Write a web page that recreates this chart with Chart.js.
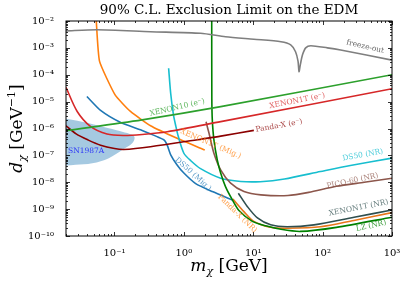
<!DOCTYPE html>
<html>
<head>
<meta charset="utf-8">
<script src="https://cdn.jsdelivr.net/npm/chart.js@4.4.1/dist/chart.umd.min.js"></script>
<style>
  body { margin: 0; background: #fff; }
  canvas { display: block; }
</style>
</head>
<body>
<canvas id="edm" width="407" height="284"></canvas>
<script>
// ---- data (mass in GeV, EDM in GeV^-1) ----
var xTicks = [0.1, 1, 10, 100, 1000];
var yTicks = [1e-10, 1e-9, 1e-8, 1e-7, 1e-6, 1e-5, 1e-4, 1e-3, 1e-2];

var freezeM = [0.02, 0.056, 0.33, 1.74, 3.98, 10.2, 25.1, 34.7, 40.7, 44.2, 45.7, 47.9, 51.3, 57.0, 67.6, 117, 182, 1000];
var freezeD = [4.3e-3, 4.7e-3, 4.0e-3, 3.5e-3, 2.6e-3, 2.1e-3, 1.7e-3, 1.3e-3, 7.2e-4, 3.2e-4, 1.3e-4, 2.5e-4, 5.5e-4, 1.0e-3, 1.2e-3, 1.0e-3, 8.3e-4, 3.5e-4];

var xe10eM = [0.02, 0.25, 3.4, 1000];
var xe10eD = [8.3e-7, 2.1e-6, 6.5e-6, 1.0e-4];

var xe1teM = [0.02, 0.029, 0.045, 0.078, 0.135, 0.25, 0.575, 3.4, 1000];
var xe1teD = [3.4e-5, 4.3e-6, 1.2e-6, 6.2e-7, 5.5e-7, 6.0e-7, 7.6e-7, 1.8e-6, 3.0e-5];

var pandaeM = [0.02, 0.028, 0.042, 0.063, 0.1, 0.136, 0.33, 1.74, 3.4, 10.2];
var pandaeD = [1.26e-6, 6.3e-7, 3.7e-7, 2.4e-7, 1.8e-7, 1.66e-7, 2.1e-7, 4.0e-7, 5.2e-7, 8.5e-7];

var ds50migM = [0.040, 0.063, 0.123, 0.237, 0.513, 0.575, 0.646, 0.794, 1.0, 1.48, 2.57, 5.0];
var ds50migD = [1.55e-5, 4.7e-6, 1.66e-6, 8.9e-7, 3.8e-7, 2.4e-7, 1.05e-7, 4.5e-8, 2.2e-8, 8.9e-9, 4.5e-9, 2.2e-9];

var xe1tmigM = [0.0543, 0.0608, 0.102, 0.17, 0.331, 0.80, 2.0];
var xe1tmigD = [1.26e-2, 3.2e-4, 1.78e-5, 4.3e-6, 1.26e-6, 4.3e-7, 1.58e-7];

var ds50nrM = [0.603, 0.646, 0.708, 0.759, 0.832, 1.0, 1.26, 1.74, 3.39, 6.6, 12.6, 28.2, 93, 251, 1000];
var ds50nrD = [1.74e-4, 2.0e-5, 3.2e-6, 1.35e-6, 5.0e-7, 1.2e-7, 6.3e-8, 3.2e-8, 1.41e-8, 1.07e-8, 1.05e-8, 1.32e-8, 2.5e-8, 4.2e-8, 7.9e-8];

var picoM = [2.09, 2.21, 2.30, 2.71, 3.39, 4.72, 7.35, 12.9, 31.6, 63, 158, 398, 1000];
var picoD = [1.78e-6, 1.0e-6, 6.8e-7, 1.2e-7, 2.9e-8, 9.3e-9, 4.5e-9, 3.4e-9, 3.2e-9, 4.2e-9, 7.1e-9, 1.0e-8, 1.41e-8];

var lzM = [2.52, 2.53, 2.57, 2.71, 3.03, 3.39, 3.98, 4.99, 6.22, 9.7, 15.1, 25.1, 47.9, 158, 1000];
var lzD = [1.26e-2, 1.26e-5, 2.1e-6, 3.8e-7, 6.8e-8, 2.2e-8, 6.9e-9, 2.24e-9, 8.9e-10, 3.5e-10, 2.4e-10, 1.78e-10, 1.48e-10, 2.1e-10, 5.0e-10];

var xe1tnrM = [6.1, 8.2, 11.5, 17.8, 31, 75, 284, 1000];
var xe1tnrD = [3.9e-9, 1.26e-9, 4.7e-10, 2.6e-10, 2.2e-10, 2.6e-10, 5.0e-10, 9.3e-10];

var pandanrM = [5.08, 7.33, 10.2, 17.8, 30.9, 93, 282, 1000];
var pandanrD = [2.4e-9, 8.1e-10, 3.5e-10, 2.1e-10, 1.95e-10, 2.2e-10, 3.8e-10, 7.4e-10];

// SN1987A region outline (upper edge left->right, then lower edge back)
var snM = [0.02, 0.0427, 0.0828, 0.129, 0.18, 0.195, 0.18, 0.129, 0.0828, 0.0479, 0.0275, 0.02];
var snD = [2.3e-6, 1.58e-6, 1.02e-6, 7.6e-7, 5.8e-7, 4.5e-7, 2.8e-7, 1.58e-7, 7.9e-8, 5.1e-8, 4.5e-8, 4.2e-8];

// ---- curve labels: text, anchor (GeV, GeV^-1), rotation in degrees ----
var curveLabels = [
    { text: 'freeze-out', m: 410, d: 1.1e-3, rot: 13, color: '#333333' },
    { text: 'XENON10 (e⁻)', m: 0.80, d: 6.0e-6, rot: -13, color: '#2ca02c' },
    { text: 'XENON1T (e⁻)', m: 43, d: 1.07e-5, rot: -11, color: '#d62728' },
    { text: 'Panda-X (e⁻)', m: 23.5, d: 1.26e-6, rot: -10, color: '#8b0000' },
    { text: 'XENON1T (Mig.)', m: 2.43, d: 2.7e-7, rot: 23, color: '#ff7f0e' },
    { text: 'DS50 (Mig.)', m: 1.36, d: 2.0e-8, rot: 42, color: '#1f77b4' },
    { text: 'Panda-X (NR)', m: 5.9, d: 6.8e-10, rot: 44, color: '#ff7f0e' },
    { text: 'DS50 (NR)', m: 380, d: 1.03e-7, rot: -10, color: '#17becf' },
    { text: 'PICO-60 (NR)', m: 270, d: 1.12e-8, rot: -12, color: '#8c564b' },
    { text: 'XENON1T (NR)', m: 330, d: 1.12e-9, rot: -11, color: '#2f4f4f' },
    { text: 'LZ (NR)', m: 500, d: 2.4e-10, rot: -12, color: '#008000' },
    { text: 'SN1987A', m: 0.039, d: 1.48e-7, rot: 0, color: '#0000ff' }
];

function pts(m, d) {
    return m.map(function (v, i) { return { x: v, y: d[i] }; });
}

function curve(label, m, d, color, tension) {
    return {
        label: label,
        data: pts(m, d),
        borderColor: color,
        backgroundColor: color,
        borderWidth: 1.6,
        pointRadius: 0,
        tension: tension,
        fill: false,
        clip: 0
    };
}

var supMap = { '-': '⁻', '0': '⁰', '1': '¹', '2': '²', '3': '³', '4': '⁴', '5': '⁵', '6': '⁶', '7': '⁷', '8': '⁸', '9': '⁹' };
function powLabel(v) {
    var e = String(Math.round(Math.log10(v)));
    return '10' + e.split('').map(function (c) { return supMap[c]; }).join('');
}

var serif = 'DejaVu Serif';

// ---- frame, inward ticks, curve labels, axis titles ----
var decor = {
    id: 'decor',
    afterDatasetsDraw: function (chart) {
        var ctx = chart.ctx, a = chart.chartArea;
        var xs = chart.scales.x, ys = chart.scales.y;
        ctx.save();
        ctx.strokeStyle = '#000';
        ctx.lineWidth = 0.8;
        var e, k, p, len;
        for (e = -2; e <= 3; e++) {
            for (k = 1; k <= 9; k++) {
                var v = k * Math.pow(10, e);
                if (v < 0.02 - 1e-9 || v > 1000 + 1e-9) continue;
                p = Math.round(xs.getPixelForValue(v)) + 0.5;
                len = (k === 1) ? 4 : 2;
                ctx.beginPath();
                ctx.moveTo(p, a.bottom); ctx.lineTo(p, a.bottom - len);
                ctx.moveTo(p, a.top); ctx.lineTo(p, a.top + len);
                ctx.stroke();
            }
        }
        for (e = -10; e <= -2; e++) {
            for (k = 1; k <= 9; k++) {
                var w = k * Math.pow(10, e);
                if (w > 1e-2 * 1.0001) continue;
                p = Math.round(ys.getPixelForValue(w)) + 0.5;
                len = (k === 1) ? 4 : 2;
                ctx.beginPath();
                ctx.moveTo(a.left, p); ctx.lineTo(a.left + len, p);
                ctx.moveTo(a.right, p); ctx.lineTo(a.right - len, p);
                ctx.stroke();
            }
        }
        ctx.lineWidth = 1;
        ctx.strokeRect(a.left, a.top, a.right - a.left, a.bottom - a.top);

        // curve labels
        ctx.font = '7.5px "' + serif + '"';
        ctx.textAlign = 'center';
        ctx.textBaseline = 'middle';
        curveLabels.forEach(function (l) {
            ctx.save();
            ctx.globalAlpha = 0.75;
            ctx.fillStyle = l.color;
            ctx.translate(xs.getPixelForValue(l.m), ys.getPixelForValue(l.d));
            ctx.rotate(l.rot * Math.PI / 180);
            ctx.fillText(l.text, 0, 0);
            ctx.restore();
        });
        ctx.restore();
    },
    afterDraw: function (chart) {
        var ctx = chart.ctx, a = chart.chartArea;
        ctx.save();
        ctx.fillStyle = '#000';
        ctx.textBaseline = 'alphabetic';
        ctx.textAlign = 'left';
        var big = '17px "' + serif + '"', bigIt = 'italic 17px "' + serif + '"', small = '11px "' + serif + '"', smallIt = 'italic 11px "' + serif + '"';

        // x title: m_chi [GeV]
        var parts = [[bigIt, 'm', 0], [smallIt, 'χ', 4], [big, ' [GeV]', 0]];
        drawParts(ctx, parts, (a.left + a.right) / 2, 271);

        // y title: d_chi [GeV^-1], rotated
        ctx.translate(22, (a.top + a.bottom) / 2);
        ctx.rotate(-Math.PI / 2);
        var yparts = [[bigIt, 'd', 0], [smallIt, 'χ', 4], [big, ' [GeV', 0], [small, '−1', -7], [big, ']', 0]];
        drawParts(ctx, yparts, 0, 0);
        ctx.restore();
    }
};

function drawParts(ctx, parts, cx, base) {
    var total = 0;
    parts.forEach(function (p) { ctx.font = p[0]; total += ctx.measureText(p[1]).width; });
    var x = cx - total / 2;
    parts.forEach(function (p) {
        ctx.font = p[0];
        ctx.fillText(p[1], x, base + p[2]);
        x += ctx.measureText(p[1]).width;
    });
}

var ctx = document.getElementById('edm').getContext('2d');
var chart = new Chart(ctx, {
    type: 'line',
    data: {
        datasets: [
            curve('freeze-out', freezeM, freezeD, '#7f7f7f', 0.25),
            curve('XENON10 (e-)', xe10eM, xe10eD, '#2ca02c', 0.3),
            curve('XENON1T (e-)', xe1teM, xe1teD, '#d62728', 0.3),
            curve('Panda-X (e-)', pandaeM, pandaeD, '#8b0000', 0.3),
            curve('LZ (NR)', lzM, lzD, '#008000', 0.25),
            curve('XENON1T (NR)', xe1tnrM, xe1tnrD, '#2f4f4f', 0.3),
            curve('Panda-X (NR)', pandanrM, pandanrD, '#e8761a', 0.3),
            curve('PICO-60 (NR)', picoM, picoD, '#8c564b', 0.25),
            curve('DS50 (NR)', ds50nrM, ds50nrD, '#17becf', 0.25),
            curve('XENON1T (Mig.)', xe1tmigM, xe1tmigD, '#ff7f0e', 0.15),
            curve('DS50 (Mig.)', ds50migM, ds50migD, '#1f77b4', 0.2),
            {
                label: 'SN1987A',
                data: pts(snM, snD),
                borderWidth: 0,
                borderColor: 'rgba(31,119,180,0)',
                backgroundColor: 'rgba(31,119,180,0.4)',
                pointRadius: 0,
                tension: 0.35,
                fill: 'shape',
                clip: 0
            }
        ]
    },
    options: {
        responsive: false,
        animation: false,
        devicePixelRatio: 1,
        layout: { padding: { left: 0, right: 15, top: 0, bottom: 0 } },
        plugins: {
            legend: { display: false },
            tooltip: { enabled: false },
            title: {
                display: true,
                text: '90% C.L. Exclusion Limit on the EDM',
                fullSize: false,
                color: '#000',
                font: { family: serif, size: 13.5, weight: 'normal', lineHeight: 1.2 },
                padding: { top: 2, bottom: 2.8 }
            }
        },
        scales: {
            x: {
                type: 'logarithmic',
                min: 0.02,
                max: 1000,
                grid: { display: false },
                border: { display: false },
                afterBuildTicks: function (s) { s.ticks = xTicks.map(function (v) { return { value: v }; }); },
                afterFit: function (s) { s.height = 48; },
                ticks: {
                    autoSkip: false,
                    maxRotation: 0,
                    padding: 3,
                    color: '#000',
                    font: { family: serif, size: 10 },
                    callback: function (v) { return powLabel(v); }
                }
            },
            y: {
                type: 'logarithmic',
                min: 1e-10,
                max: 1e-2,
                grid: { display: false },
                border: { display: false },
                afterBuildTicks: function (s) { s.ticks = yTicks.map(function (v) { return { value: v }; }); },
                afterFit: function (s) { s.width = 66; },
                ticks: {
                    autoSkip: false,
                    padding: 4,
                    color: '#000',
                    font: { family: serif, size: 10 },
                    callback: function (v) { return powLabel(v); }
                }
            }
        }
    },
    plugins: [decor]
});
</script>
</body>
</html>
